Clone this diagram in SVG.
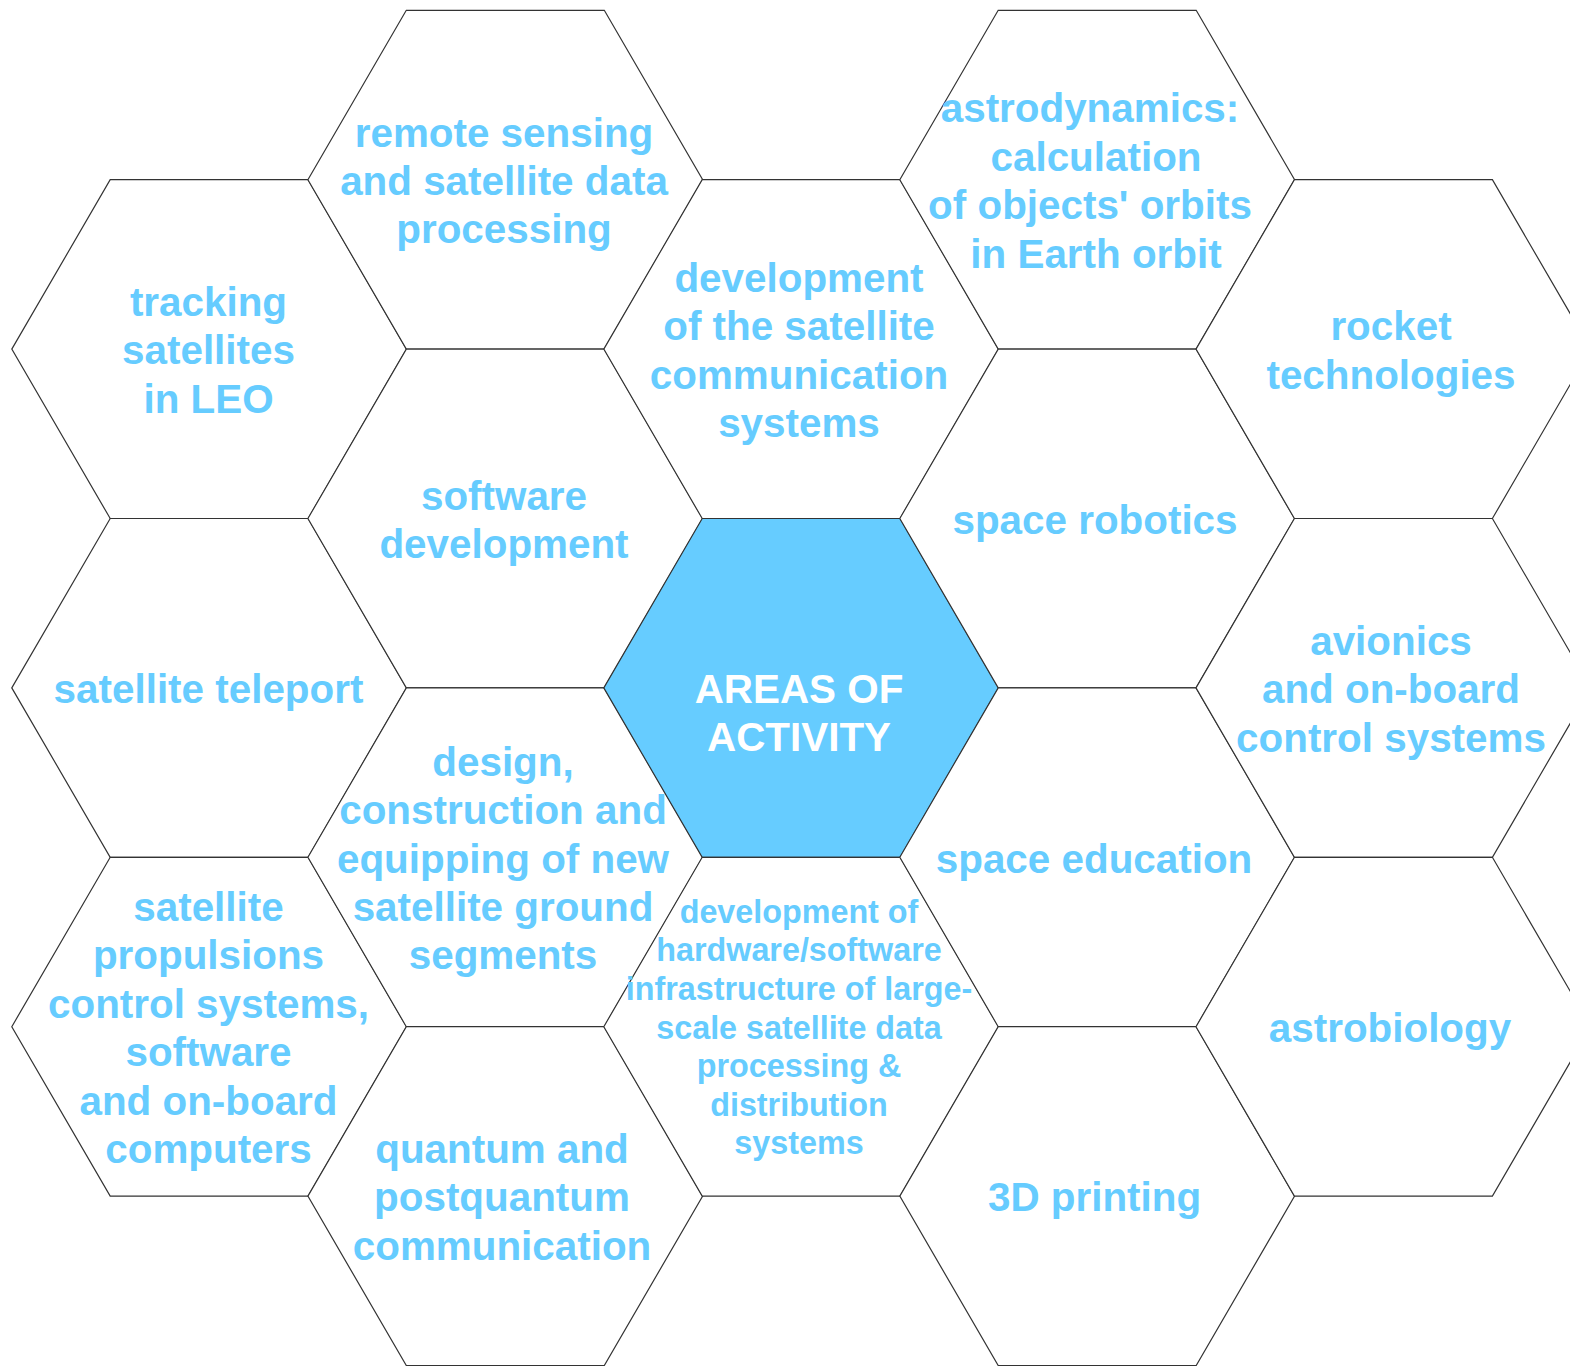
<svg xmlns="http://www.w3.org/2000/svg" xmlns:xlink="http://www.w3.org/1999/xlink" width="1570" height="1366" viewBox="0 0 1570 1366">
  <style>
    .hex { fill: #ffffff; stroke: #333333; stroke-width: 1.2; }
    .hex.core { fill: #66CCFF; }
    .lbl { font-family: "Liberation Sans", Arial, sans-serif; font-weight: bold; font-size: 40.4px; fill: #66CCFF; text-anchor: middle; }
    .lbl.small { font-size: 32.3px; }
    .lbl.core { fill: #ffffff; }
  </style>
  <defs>
    <!-- flat-topped hexagon centred on the origin -->
    <polygon id="hexShape" points="-197.4,0 -99,-169.4 99,-169.4 197.4,0 99,169.4 -99,169.4"/>
  </defs>
  <rect width="1570" height="1366" fill="#ffffff"/>

  <!-- column 0 -->
  <g id="tracking">
    <use xlink:href="#hexShape" class="hex" transform="translate(209.2,349.1)"/>
    <text class="lbl"><tspan x="208.5" y="316">tracking</tspan><tspan x="208.5" y="364.4">satellites</tspan><tspan x="208.5" y="412.8">in LEO</tspan></text>
  </g>
  <g id="teleport">
    <use xlink:href="#hexShape" class="hex" transform="translate(209.2,687.9)"/>
    <text class="lbl"><tspan x="208.5" y="703.3">satellite teleport</tspan></text>
  </g>
  <g id="propulsion">
    <use xlink:href="#hexShape" class="hex" transform="translate(209.2,1026.7)"/>
    <text class="lbl"><tspan x="208.5" y="921">satellite</tspan><tspan x="208.5" y="969.4">propulsions</tspan><tspan x="208.5" y="1017.8">control systems,</tspan><tspan x="208.5" y="1066.2">software</tspan><tspan x="208.5" y="1114.6">and on-board</tspan><tspan x="208.5" y="1163">computers</tspan></text>
  </g>

  <!-- column 1 -->
  <g id="remote-sensing">
    <use xlink:href="#hexShape" class="hex" transform="translate(505.3,179.7)"/>
    <text class="lbl"><tspan x="504" y="146.6">remote sensing</tspan><tspan x="504" y="195">and satellite data</tspan><tspan x="504" y="243.4">processing</tspan></text>
  </g>
  <g id="software">
    <use xlink:href="#hexShape" class="hex" transform="translate(505.3,518.5)"/>
    <text class="lbl"><tspan x="504" y="509.6">software</tspan><tspan x="504" y="558">development</tspan></text>
  </g>
  <g id="ground-segments">
    <use xlink:href="#hexShape" class="hex" transform="translate(505.3,857.3)"/>
    <text class="lbl"><tspan x="503" y="775.8">design,</tspan><tspan x="503" y="824.2">construction and</tspan><tspan x="503" y="872.6">equipping of new</tspan><tspan x="503" y="921">satellite ground</tspan><tspan x="503" y="969.4">segments</tspan></text>
  </g>
  <g id="quantum">
    <use xlink:href="#hexShape" class="hex" transform="translate(505.3,1196.1)"/>
    <text class="lbl"><tspan x="502" y="1163">quantum and</tspan><tspan x="502" y="1211.4">postquantum</tspan><tspan x="502" y="1259.8">communication</tspan></text>
  </g>

  <!-- column 2 -->
  <g id="sat-comms">
    <use xlink:href="#hexShape" class="hex" transform="translate(801.2,349.1)"/>
    <text class="lbl"><tspan x="799" y="291.8">development</tspan><tspan x="799" y="340.2">of the satellite</tspan><tspan x="799" y="388.6">communication</tspan><tspan x="799" y="437">systems</tspan></text>
  </g>
  <g id="areas">
    <use xlink:href="#hexShape" class="hex core" transform="translate(801.2,687.9)"/>
    <text class="lbl core"><tspan x="799" y="703.2">AREAS OF</tspan><tspan x="799" y="751.4">ACTIVITY</tspan></text>
  </g>
  <g id="infrastructure">
    <use xlink:href="#hexShape" class="hex" transform="translate(801.2,1026.7)"/>
    <text class="lbl small"><tspan x="799" y="922.7">development of</tspan><tspan x="799" y="961.3">hardware/software</tspan><tspan x="799" y="999.9">infrastructure of large-</tspan><tspan x="799" y="1038.5">scale satellite data</tspan><tspan x="799" y="1077.1">processing &amp;</tspan><tspan x="799" y="1115.7">distribution</tspan><tspan x="799" y="1154.3">systems</tspan></text>
  </g>

  <!-- column 3 -->
  <g id="astrodynamics">
    <use xlink:href="#hexShape" class="hex" transform="translate(1097.2,179.7)"/>
    <text class="lbl"><tspan x="1090" y="122.4">astrodynamics:</tspan><tspan x="1096" y="170.8">calculation</tspan><tspan x="1090" y="219.2">of objects' orbits</tspan><tspan x="1096" y="267.6">in Earth orbit</tspan></text>
  </g>
  <g id="robotics">
    <use xlink:href="#hexShape" class="hex" transform="translate(1097.2,518.5)"/>
    <text class="lbl"><tspan x="1095" y="533.8">space robotics</tspan></text>
  </g>
  <g id="education">
    <use xlink:href="#hexShape" class="hex" transform="translate(1097.2,857.3)"/>
    <text class="lbl"><tspan x="1094" y="872.6">space education</tspan></text>
  </g>
  <g id="printing">
    <use xlink:href="#hexShape" class="hex" transform="translate(1097.2,1196.1)"/>
    <text class="lbl"><tspan x="1094.5" y="1211.4">3D printing</tspan></text>
  </g>

  <!-- column 4 -->
  <g id="rocket">
    <use xlink:href="#hexShape" class="hex" transform="translate(1393.4,349.1)"/>
    <text class="lbl"><tspan x="1391" y="340.2">rocket</tspan><tspan x="1391" y="388.6">technologies</tspan></text>
  </g>
  <g id="avionics">
    <use xlink:href="#hexShape" class="hex" transform="translate(1393.4,687.9)"/>
    <text class="lbl"><tspan x="1391" y="654.8">avionics</tspan><tspan x="1391" y="703.2">and on-board</tspan><tspan x="1391" y="751.6">control systems</tspan></text>
  </g>
  <g id="astrobiology">
    <use xlink:href="#hexShape" class="hex" transform="translate(1393.4,1026.7)"/>
    <text class="lbl"><tspan x="1390" y="1042">astrobiology</tspan></text>
  </g>

  <!-- the cells touch edge to edge; there are no separate connectors -->
  <g id="connectors"/>
</svg>
